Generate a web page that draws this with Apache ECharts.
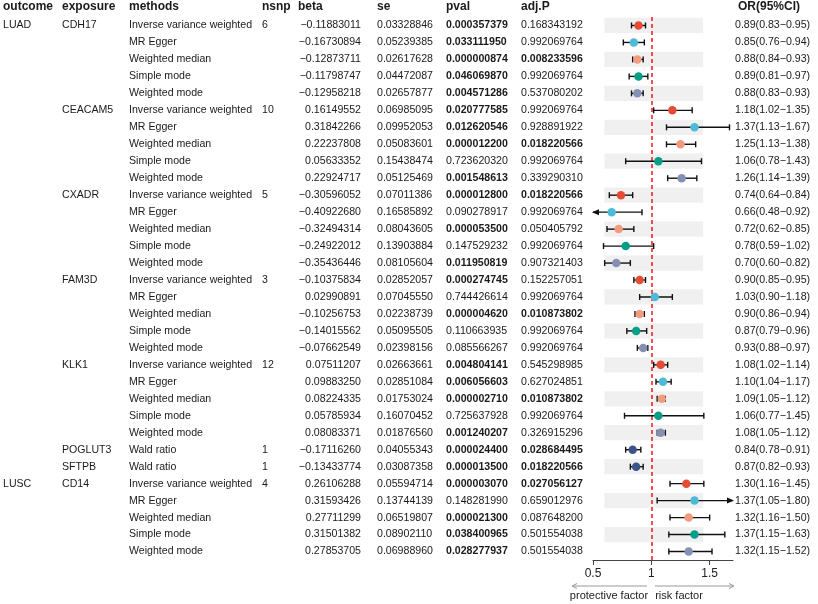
<!DOCTYPE html>
<html><head><meta charset="utf-8">
<script src="https://cdn.jsdelivr.net/npm/echarts@6/dist/echarts.min.js"></script>
<style>html,body{margin:0;padding:0;background:#fff}#c{width:818px;height:604px}</style>
</head><body><div id="c"></div>
<script>
// ---------- data ----------
const outcome = ['LUAD','','','','','','','','','','','','','','','','','','','','','','','','','','','LUSC','','','',''];
const exposure = ['CDH17','','','','','CEACAM5','','','','','CXADR','','','','','FAM3D','','','','','KLK1','','','','','POGLUT3','SFTPB','CD14','','','',''];
const methods = [
 'Inverse variance weighted','MR Egger','Weighted median','Simple mode','Weighted mode',
 'Inverse variance weighted','MR Egger','Weighted median','Simple mode','Weighted mode',
 'Inverse variance weighted','MR Egger','Weighted median','Simple mode','Weighted mode',
 'Inverse variance weighted','MR Egger','Weighted median','Simple mode','Weighted mode',
 'Inverse variance weighted','MR Egger','Weighted median','Simple mode','Weighted mode',
 'Wald ratio','Wald ratio',
 'Inverse variance weighted','MR Egger','Weighted median','Simple mode','Weighted mode'];
const nsnp = ['6','','','','','10','','','','','5','','','','','3','','','','','12','','','','','1','1','4','','','',''];
const beta = [-0.11883011,-0.16730894,-0.12873711,-0.11798747,-0.12958218,
 0.16149552,0.31842266,0.22237808,0.05633352,0.22924717,
 -0.30596052,-0.40922680,-0.32494314,-0.24922012,-0.35436446,
 -0.10375834,0.02990891,-0.10256753,-0.14015562,-0.07662549,
 0.07511207,0.09883250,0.08224335,0.05785934,0.08083371,
 -0.17116260,-0.13433774,
 0.26106288,0.31593426,0.27711299,0.31501382,0.27853705];
const se = [0.03328846,0.05239385,0.02617628,0.04472087,0.02657877,
 0.06985095,0.09952053,0.05083601,0.15438474,0.05125469,
 0.07011386,0.16585892,0.08043605,0.13903884,0.08105604,
 0.02852057,0.07045550,0.02238739,0.05095505,0.02398156,
 0.02663661,0.02851084,0.01753024,0.16070452,0.01876560,
 0.04055343,0.03087358,
 0.05594714,0.13744139,0.06519807,0.08902110,0.06988960];
const pval = [0.000357379,0.033111950,0.000000874,0.046069870,0.004571286,
 0.020777585,0.012620546,0.000012200,0.723620320,0.001548613,
 0.000012800,0.090278917,0.000053500,0.147529232,0.011950819,
 0.000274745,0.744426614,0.000004620,0.110663935,0.085566267,
 0.004804141,0.006056603,0.000002710,0.725637928,0.001240207,
 0.000024400,0.000013500,
 0.000003070,0.148281990,0.000021300,0.038400965,0.028277937];
const adjP = [0.168343192,0.992069764,0.008233596,0.992069764,0.537080202,
 0.992069764,0.928891922,0.018220566,0.992069764,0.339290310,
 0.018220566,0.992069764,0.050405792,0.992069764,0.907321403,
 0.152257051,0.992069764,0.010873802,0.992069764,0.992069764,
 0.545298985,0.627024851,0.010873802,0.992069764,0.326915296,
 0.028684495,0.018220566,
 0.027056127,0.659012976,0.087648200,0.501554038,0.501554038];
const orVal = [0.89,0.85,0.88,0.89,0.88, 1.18,1.37,1.25,1.06,1.26, 0.74,0.66,0.72,0.78,0.70,
 0.90,1.03,0.90,0.87,0.93, 1.08,1.10,1.09,1.06,1.08, 0.84,0.87, 1.30,1.37,1.32,1.37,1.32];
const orLo = [0.83,0.76,0.84,0.81,0.83, 1.02,1.13,1.13,0.78,1.14, 0.64,0.48,0.62,0.59,0.60,
 0.85,0.90,0.86,0.79,0.88, 1.02,1.04,1.05,0.77,1.05, 0.78,0.82, 1.16,1.05,1.16,1.15,1.15];
const orHi = [0.95,0.94,0.93,0.97,0.93, 1.35,1.67,1.38,1.43,1.39, 0.84,0.92,0.85,1.02,0.82,
 0.95,1.18,0.94,0.96,0.97, 1.14,1.17,1.12,1.45,1.12, 0.91,0.93, 1.45,1.80,1.50,1.63,1.52];
const headers = ['outcome','exposure','methods','nsnp','beta','se','pval','adj.P','OR(95%CI)'];
const axisTicks = [0.5, 1, 1.5];

// ---------- style ----------
const FONT = "'Liberation Sans', Arial, Helvetica, sans-serif";
const FS = 10.6;
const TXT = '#1a1a1a';
const methodColor = {
  'Inverse variance weighted':'#E64B35','MR Egger':'#4DBBD5','Weighted median':'#F39B7F',
  'Simple mode':'#00A087','Weighted mode':'#8491B4','Wald ratio':'#3C5488'};
const colX = {outcome:3, exposure:62, methods:129, nsnp:262, betaR:361, beta:298, se:377, pval:446, adjP:521, or:735};
const GTOP = 17, GH = 543;
const XMIN = 0.5, XMAX = 1.7;

const rows = methods.map((_, i) => i);
const cats = rows.map(i => 'r' + i);
const fmt = (v, d) => v.toFixed(d).replace('-', '\u2212');
const orText = i => `${orVal[i].toFixed(2)}(${orLo[i].toFixed(2)}\u2212${orHi[i].toFixed(2)})`;

function txt(x, y, text, bold, align) {
  return {type:'text', x, y, style:{text, fill:TXT, fontSize:FS, fontFamily:FONT,
    fontWeight: bold ? 'bold' : 'normal', align: align || 'left', verticalAlign:'middle'}};
}

const chart = echarts.init(document.getElementById('c'), null, {renderer:'canvas'});
chart.setOption({
  animation:false,
  backgroundColor:'#fff',
  grid:[
    {left:0, width:818, top:GTOP, height:GH},
    {left:593, width:140, top:GTOP, height:GH}
  ],
  xAxis:[
    {gridIndex:0, type:'value', min:0, max:818, show:false},
    {gridIndex:1, type:'value', min:XMIN, max:XMAX, interval:0.5,
     axisLine:{show:true, onZero:false, lineStyle:{color:'#444', width:1}},
     axisTick:{show:true, length:5, lineStyle:{color:'#444'}, customValues:axisTicks},
     axisLabel:{fontSize:12, color:'#222', fontFamily:FONT, margin:8, customValues:axisTicks,
       formatter: v => String(v)},
     splitLine:{show:false}}
  ],
  yAxis:[
    {gridIndex:0, type:'category', data:cats, inverse:true, show:false},
    {gridIndex:1, type:'category', data:cats, inverse:true, show:false}
  ],
  graphic:[
    ...headers.map((h, k) => {
      const xs = [colX.outcome, colX.exposure, colX.methods, colX.nsnp, colX.beta, colX.se, colX.pval, colX.adjP, 738];
      return {type:'text', left:xs[k], top:1, style:{text:h, fill:TXT, fontSize:12, fontWeight:'bold', fontFamily:FONT}};
    }),
    {type:'line', shape:{x1:647, y1:586, x2:573, y2:586}, style:{stroke:'#999', lineWidth:1}},
    {type:'polyline', shape:{points:[[577,583.5],[572,586],[577,588.5]]}, style:{stroke:'#999', fill:null, lineWidth:1}},
    {type:'line', shape:{x1:655, y1:586, x2:733, y2:586}, style:{stroke:'#999', lineWidth:1}},
    {type:'polyline', shape:{points:[[729,583.5],[734,586],[729,588.5]]}, style:{stroke:'#999', fill:null, lineWidth:1}},
    {type:'text', x:609, y:596, style:{text:'protective factor', fill:'#222', fontSize:11, fontFamily:FONT, align:'center', verticalAlign:'middle'}},
    {type:'text', x:679, y:596, style:{text:'risk factor', fill:'#222', fontSize:11, fontFamily:FONT, align:'center', verticalAlign:'middle'}}
  ],
  series:[
    { // table text
      type:'custom', xAxisIndex:0, yAxisIndex:0, coordinateSystem:'cartesian2d',
      data: rows.map(i => [0, cats[i]]),
      renderItem:(params, api) => {
        const i = params.dataIndex;
        const y = api.coord([0, i])[1];
        return {type:'group', children:[
          txt(colX.outcome, y, outcome[i]),
          txt(colX.exposure, y, exposure[i]),
          txt(colX.methods, y, methods[i]),
          txt(colX.nsnp, y, nsnp[i]),
          txt(colX.betaR, y, fmt(beta[i], 8), false, 'right'),
          txt(colX.se, y, fmt(se[i], 8)),
          txt(colX.pval, y, fmt(pval[i], 9), pval[i] < 0.05),
          txt(colX.adjP, y, fmt(adjP[i], 9), adjP[i] < 0.05),
          txt(colX.or, y, orText(i))
        ]};
      }
    },
    { // alternating bands
      type:'custom', xAxisIndex:1, yAxisIndex:1, coordinateSystem:'cartesian2d', z:1,
      data: rows.filter(i => i % 2 === 0).map(i => [0.598, cats[i], 1.444]),
      renderItem:(params, api) => {
        const r = rows.filter(i => i % 2 === 0)[params.dataIndex];
        const a = api.coord([api.value(0), r]);
        const b = api.coord([api.value(2), r]);
        const h = api.size([0, 1])[1] * 0.9;
        return {type:'rect', shape:{x:a[0], y:a[1] - h / 2, width:b[0] - a[0], height:h}, style:{fill:'#F0F0F0'}};
      }
    },
    { // CI bars
      type:'custom', xAxisIndex:1, yAxisIndex:1, coordinateSystem:'cartesian2d', z:3,
      data: rows.map(i => [orLo[i], cats[i], orHi[i]]),
      renderItem:(params, api) => {
        const r = params.dataIndex;
        const lo = api.value(0), hi = api.value(2);
        const L = api.coord([Math.max(lo, XMIN), r]);
        const R = api.coord([Math.min(hi, XMAX), r]);
        const y = L[1], c = 3, st = {stroke:'#111', lineWidth:1.4};
        const ch = [{type:'line', shape:{x1:L[0], y1:y, x2:R[0], y2:y}, style:st}];
        if (lo >= XMIN) ch.push({type:'line', shape:{x1:L[0], y1:y - c, x2:L[0], y2:y + c}, style:st});
        else ch.push({type:'polygon', shape:{points:[[L[0] - 1, y], [L[0] + 6, y - 3], [L[0] + 6, y + 3]]}, style:{fill:'#111'}});
        if (hi <= XMAX) ch.push({type:'line', shape:{x1:R[0], y1:y - c, x2:R[0], y2:y + c}, style:st});
        else ch.push({type:'polygon', shape:{points:[[R[0] + 1, y], [R[0] - 6, y - 3], [R[0] - 6, y + 3]]}, style:{fill:'#111'}});
        return {type:'group', children:ch};
      }
    },
    { // point estimates + reference line at OR = 1
      type:'scatter', xAxisIndex:1, yAxisIndex:1, z:4, symbolSize:8.5,
      data: rows.map(i => ({value:[orVal[i], cats[i]], itemStyle:{color:methodColor[methods[i]], opacity:1}})),
      markLine:{silent:true, symbol:'none', label:{show:false}, z:2,
        lineStyle:{color:'#F0141E', type:[4, 3], width:1.5, opacity:1}, data:[{xAxis:1}]}
    }
  ]
});
</script></body></html>
